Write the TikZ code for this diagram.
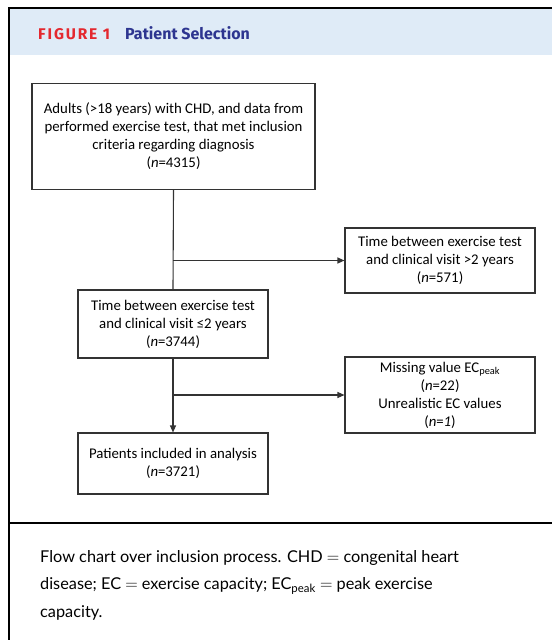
\documentclass[tikz,border=0pt]{standalone}
\usepackage{fontspec}
\setmainfont{Carlito}
\newfontfamily\boxfont{Carlito}
\newfontfamily\capfont{Lato}
\newfontfamily\headfont[LetterSpace=12]{Fira Sans}
\newfontfamily\titlefont{Fira Sans}
\usetikzlibrary{arrows.meta}
\definecolor{hdrblue}{HTML}{DFEBF7}
\definecolor{figred}{HTML}{E4282F}
\definecolor{titleblue}{HTML}{2D3590}
\definecolor{linegray}{HTML}{333333}
\begin{document}
\begin{tikzpicture}[x=1pt,y=-1pt,
  flowbox/.style={draw=linegray,line width=1.1pt,rectangle,align=center,inner sep=2pt,
    font=\boxfont\fontsize{14.8}{18}\selectfont},
  conn/.style={draw=linegray,line width=1.1pt},
  arr/.style={conn,-{Triangle[length=7pt,width=6pt]}}]
\useasboundingbox (0,0) rectangle (552,640);
\fill[white] (0,0) rectangle (552,640);
% header band
\fill[hdrblue] (9,9) rectangle (552,55);
\draw[line width=2pt] (8.5,640) -- (8.5,8) -- (552,8);
\draw[line width=1.5pt] (8.5,523) -- (552,523);
\node[anchor=base west,inner sep=0,text=figred,font=\headfont\bfseries\fontsize{15.5}{18}\selectfont] (fig) at (38,39) {FIGURE 1};
\node[anchor=base west,inner sep=0,text=titleblue,font=\titlefont\bfseries\fontsize{16}{18}\selectfont] (ttl) at (125,39) {Patient Selection};
% boxes
\node[flowbox,minimum width=283pt,minimum height=106pt] (b1) at (173.5,136.5)
  {Adults (>18 years) with CHD, and data from\\performed exercise test, that met inclusion\\criteria regarding diagnosis\\(\textit{n}=4315)};
\node[flowbox,minimum width=190pt,minimum height=65pt] (b2) at (440,260.5)
  {Time between exercise test\\and clinical visit >2 years\\(\textit{n}=571)};
\node[flowbox,minimum width=190pt,minimum height=68pt] (b3) at (173,324)
  {Time between exercise test\\and clinical visit ≤2 years\\(\textit{n}=3744)};
\node[flowbox,minimum width=190pt,minimum height=76pt] (b4) at (440,395)
  {Missing value EC\textsubscript{peak}\\(\textit{n}=22)\\Unrealistic EC values\\(\textit{n}=\textit{1})};
\node[flowbox,minimum width=190pt,minimum height=61pt] (b5) at (173,463.5)
  {Patients included in analysis\\(\textit{n}=3721)};
% connectors
\coordinate (j1) at (173,260.5);
\coordinate (j2) at (173,395);
\draw[conn] (b1.south) -- (b3.north);
\draw[arr] (j1) -- (b2.west);
\draw[arr] (b3.south) -- (b5.north);
\draw[arr] (j2) -- (b4.west);
% caption
\node[anchor=base west,inner sep=0,align=left,font=\capfont\fontsize{16.3}{27.5}\selectfont] (cap) at (40,617)
  {Flow chart over inclusion process. CHD $=$ congenital heart\\disease; EC $=$ exercise capacity; EC\textsubscript{peak} $=$ peak exercise\\capacity.};
\end{tikzpicture}
\end{document}
